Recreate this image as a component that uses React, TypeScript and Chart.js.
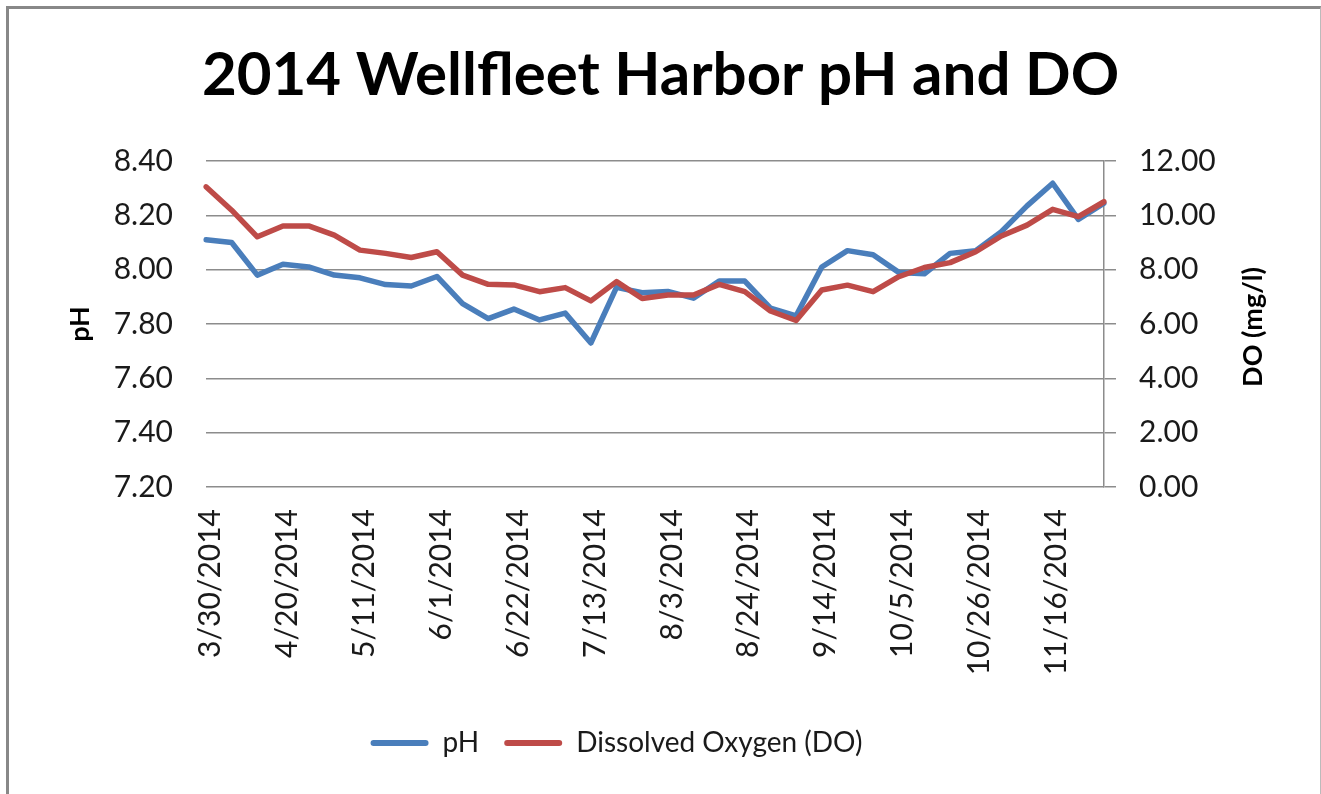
import React, { useEffect, useRef } from 'react';
import { Chart, registerables } from 'chart.js';

Chart.register(...registerables);

const chartTitle = '2014 Wellfleet Harbor pH and DO';
const leftAxisTitle = 'pH';
const rightAxisTitle = 'DO (mg/l)';
const seriesNames = ['pH', 'Dissolved Oxygen (DO)'];

const dates = [
  '3/30/2014', '4/6/2014', '4/13/2014', '4/20/2014', '4/27/2014',
  '5/4/2014', '5/11/2014', '5/18/2014', '5/25/2014',
  '6/1/2014', '6/8/2014', '6/15/2014', '6/22/2014', '6/29/2014',
  '7/6/2014', '7/13/2014', '7/20/2014', '7/27/2014',
  '8/3/2014', '8/10/2014', '8/17/2014', '8/24/2014', '8/31/2014',
  '9/7/2014', '9/14/2014', '9/21/2014', '9/28/2014',
  '10/5/2014', '10/12/2014', '10/19/2014', '10/26/2014',
  '11/2/2014', '11/9/2014', '11/16/2014', '11/23/2014', '11/30/2014',
];

const phValues = [
  8.11, 8.10, 7.98, 8.02, 8.01,
  7.98, 7.97, 7.945, 7.94,
  7.975, 7.875, 7.82, 7.855, 7.815,
  7.84, 7.73, 7.935, 7.915,
  7.92, 7.895, 7.958, 7.958, 7.858,
  7.83, 8.01, 8.07, 8.055,
  7.99, 7.985, 8.06, 8.07,
  8.14, 8.235, 8.318, 8.185, 8.245,
];

const doValues = [
  11.05, 10.19, 9.21, 9.61, 9.61,
  9.27, 8.72, 8.60, 8.45,
  8.66, 7.80, 7.46, 7.44, 7.19,
  7.34, 6.85, 7.56, 6.94,
  7.07, 7.07, 7.46, 7.19, 6.48,
  6.13, 7.25, 7.43, 7.19,
  7.74, 8.08, 8.26, 8.66,
  9.24, 9.64, 10.22, 9.95, 10.50,
];

const phAxis = { min: 7.2, max: 8.4, step: 0.2 };
const doAxis = { min: 0, max: 12, step: 2 };
const xLabelEvery = 3;

const BLUE = '#4A7EBB';
const RED = '#BE4B48';
const GRID = '#8c8c8c';
const FONT = 'Lato, "Open Sans", sans-serif';

const W = 1321;
const H = 794;

export default function App() {
  const canvasRef = useRef<HTMLCanvasElement | null>(null);

  useEffect(() => {
    const canvas = canvasRef.current;
    if (!canvas) return;

    const rightTitlePlugin = {
      id: 'rightTitle',
      afterDraw(chart: any) {
        const { ctx, chartArea } = chart;
        ctx.save();
        ctx.translate(chart.width - 68, (chartArea.top + chartArea.bottom) / 2 + 3);
        ctx.rotate(-Math.PI / 2);
        ctx.font = `bold 27px ${FONT}`;
        ctx.fillStyle = '#000';
        ctx.textAlign = 'center';
        ctx.textBaseline = 'middle';
        ctx.fillText(rightAxisTitle, 0, 0);
        ctx.restore();
      },
    };

    const legendShiftPlugin = {
      id: 'legendShift',
      afterLayout(chart: any) {
        const lg = chart.legend;
        if (lg) {
          lg.left -= 44;
          lg.right -= 44;
        }
      },
    };

    const chart = new Chart(canvas, {
      type: 'line',
      data: {
        labels: dates,
        datasets: [
          {
            label: seriesNames[0],
            data: phValues,
            yAxisID: 'y',
            borderColor: BLUE,
            backgroundColor: BLUE,
            borderWidth: 5.5,
            pointRadius: 0,
            tension: 0,
            borderJoinStyle: 'round',
            borderCapStyle: 'round',
            order: 1,
          },
          {
            label: seriesNames[1],
            data: doValues,
            yAxisID: 'y1',
            borderColor: RED,
            backgroundColor: RED,
            borderWidth: 5.5,
            pointRadius: 0,
            tension: 0,
            borderJoinStyle: 'round',
            borderCapStyle: 'round',
            order: 0,
          },
        ],
      },
      options: {
        responsive: false,
        animation: false,
        devicePixelRatio: 1,
        layout: { padding: { left: 0, right: 0, top: 0, bottom: 27 } },
        plugins: {
          title: {
            display: true,
            text: chartTitle,
            color: '#000',
            font: { family: FONT, size: 60, weight: 'bold' },
            padding: { top: 40, bottom: 49 },
          },
          legend: {
            position: 'bottom',
            labels: {
              boxWidth: 58,
              boxHeight: 6,
              padding: 25,
              color: '#1a1a1a',
              font: { family: FONT, size: 28 },
              sort: (a: any, b: any) => a.datasetIndex - b.datasetIndex,
              generateLabels: (c: any) => {
                const items = Chart.defaults.plugins.legend.labels.generateLabels(c);
                return items.map((it: any) => ({
                  ...it,
                  lineWidth: 0,
                  fillStyle: it.strokeStyle,
                  borderRadius: 3,
                }));
              },
              useBorderRadius: true,
              borderRadius: 3,
            },
          },
          tooltip: { enabled: false },
        },
        scales: {
          x: {
            type: 'category',
            offset: false,
            grid: { display: false, drawTicks: false },
            border: { display: false },
            ticks: {
              autoSkip: false,
              minRotation: 90,
              maxRotation: 90,
              padding: 22,
              labelOffset: 4,
              color: '#1a1a1a',
              font: { family: FONT, size: 30 },
              callback: (_v: any, i: number) => (i % xLabelEvery === 0 ? dates[i] : ''),
            },
            afterFit: (s: any) => {
              s.height = 217;
            },
          },
          y: {
            type: 'linear',
            position: 'left',
            min: phAxis.min,
            max: phAxis.max,
            grid: { color: GRID, lineWidth: 1.5, drawTicks: false },
            border: { display: false },
            ticks: {
              stepSize: phAxis.step,
              padding: 33,
              color: '#1a1a1a',
              font: { family: FONT, size: 30 },
              callback: (v: any) => Number(v).toFixed(2),
            },
            title: {
              display: true,
              text: leftAxisTitle,
              color: '#000',
              font: { family: FONT, size: 27, weight: 'bold' },
              padding: { top: 64, bottom: 0 },
            },
            afterFit: (s: any) => {
              s.width = 206;
            },
          },
          y1: {
            type: 'linear',
            position: 'right',
            min: doAxis.min,
            max: doAxis.max,
            grid: {
              drawOnChartArea: false,
              drawTicks: true,
              tickLength: 12,
              color: GRID,
              lineWidth: 1.5,
            },
            border: { display: true, color: GRID, width: 1.5 },
            ticks: {
              stepSize: doAxis.step,
              padding: 23,
              color: '#1a1a1a',
              font: { family: FONT, size: 30 },
              callback: (v: any) => Number(v).toFixed(2),
            },
            afterFit: (s: any) => {
              s.width = W - 1104;
            },
          },
        },
      } as any,
      plugins: [rightTitlePlugin, legendShiftPlugin],
    });

    return () => chart.destroy();
  }, []);

  return (
    <div
      style={{
        position: 'fixed',
        left: 0,
        top: 0,
        width: W,
        height: H,
        overflow: 'hidden',
        background: '#fff',
      }}
    >
      <div
        style={{
          position: 'absolute',
          left: 6,
          top: 6,
          width: W - 6,
          height: H + 50,
          boxSizing: 'border-box',
          borderTop: '3px solid #888',
          borderLeft: '3px solid #888',
          borderRight: '1px solid #bbb',
        }}
      />
      <canvas
        ref={canvasRef}
        width={W}
        height={H}
        style={{ position: 'absolute', left: 0, top: 0, width: W, height: H, display: 'block' }}
      />
    </div>
  );
}
